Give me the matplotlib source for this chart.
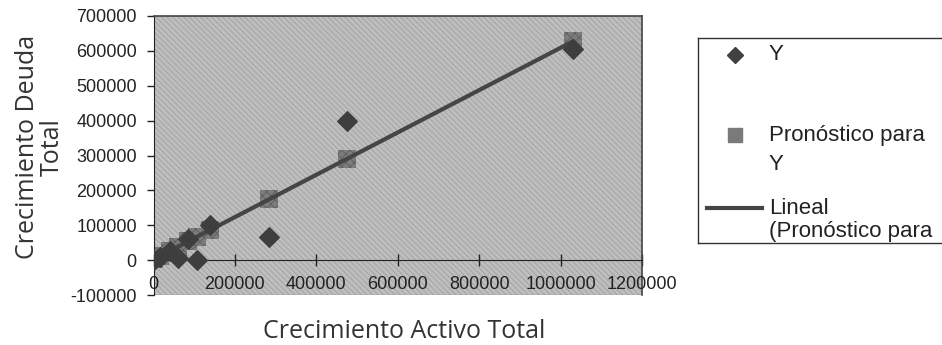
import numpy as np
import matplotlib.pyplot as plt
from matplotlib.patches import Rectangle
from matplotlib.lines import Line2D
import matplotlib.transforms as mtransforms

# Datos: crecimiento del activo total vs. crecimiento de la deuda total
activo = [0, 15000, 40000, 60000, 85000, 107000, 138000, 283000, 475000, 1030000]
deuda = [0, 10000, 25000, 5000, 60000, 0, 100000, 65000, 400000, 605000]
pronostico = [2000, 11000, 26000, 38000, 54000, 67000, 86000, 174000, 290000, 627000]

x_ticks = [0, 200000, 400000, 600000, 800000, 1000000, 1200000]
y_ticks = [-100000, 0, 100000, 200000, 300000, 400000, 500000, 600000, 700000]

num_font = 'Liberation Sans'
label_font = 'Open Sans'

plt.rcParams['hatch.linewidth'] = 0.5

fig = plt.figure(figsize=(9.42, 3.45), dpi=100)
ax = fig.add_axes([153.5 / 942, 1 - 295 / 345, (642 - 153.5) / 942, 279 / 345])

ax.set_xlim(0, 1200000)
ax.set_ylim(-100000, 700000)

# fondo gris tramado del area de trazado
ax.patch.set_facecolor('#bebebe')
ax.add_patch(Rectangle((0, 0), 1, 1, transform=ax.transAxes, fill=False,
                       hatch='\\\\\\\\\\\\', edgecolor='#9a9a9a', lw=0, zorder=0))

# linea de tendencia sobre el pronostico
coef = np.polyfit(activo, pronostico, 1)
xs = np.array([min(activo), max(activo)])
ax.plot(xs, np.polyval(coef, xs), color='#454545', lw=3, zorder=3)

ax.scatter(activo, pronostico, marker='s', s=170, color='#7c7c7c',
           hatch='xxxx', edgecolor='#5a5a5a', linewidth=0, zorder=2)
ax.scatter(activo, deuda, marker='D', s=100, color='#3e3e3e', zorder=4)

# ejes: y en el borde izquierdo, x cruzando en cero
for side in ['top', 'right']:
    ax.spines[side].set_color('#444444')
    ax.spines[side].set_linewidth(1.2)
ax.spines['left'].set_color('#222222')
ax.spines['bottom'].set_position(('data', 0))
ax.spines['bottom'].set_color('#222222')
ax.axhline(-100000, color='#8a8a8a', lw=1)

ax.set_yticks(y_ticks)
ax.set_yticklabels([str(v) if v >= 0 else '-' + str(-v) for v in y_ticks],
                   fontfamily=num_font, fontsize=13, color='#222222')
ax.tick_params(axis='y', direction='out', length=5, width=1, pad=7, color='#222222')

ax.set_xticks(x_ticks)
ax.set_xticklabels([])
ax.tick_params(axis='x', direction='inout', length=8, width=1, color='#222222')
trans = mtransforms.blended_transform_factory(ax.transData, ax.transAxes)
for v in x_ticks:
    ax.text(v, 0.036, str(v), transform=trans, ha='center', va='center',
            fontfamily=num_font, fontsize=13, color='#222222', clip_on=False)

fig.text(40 / 942, 1 - 147 / 345, 'Crecimiento Deuda\nTotal', rotation=90,
         ha='center', va='center', fontfamily=label_font, fontsize=18,
         color='#333333', linespacing=1.0)
fig.text(404 / 942, 1 - 331 / 345, 'Crecimiento Activo Total', ha='center',
         va='center', fontfamily=label_font, fontsize=18, color='#333333')

# leyenda dibujada a mano dentro de su marco
lax = fig.add_axes([698 / 942, 1 - 243 / 345, 260 / 942, 205 / 345])
lax.set_xlim(0, 260)
lax.set_ylim(205, 0)
lax.set_xticks([])
lax.set_yticks([])
for s in lax.spines.values():
    s.set_color('#333333')
    s.set_linewidth(1)

lax.plot([37], [17], marker='D', ms=8, color='#404040', clip_on=True)
lax.plot([37], [97], marker='s', ms=10, color='#7a7a7a', clip_on=True)
lax.add_line(Line2D([9, 64], [170, 170], color='#454545', lw=3))

legend_kw = dict(fontfamily=num_font, fontsize=16, color='#222222',
                 ha='left', clip_on=True)
lax.text(71, 17, 'Y', va='center', **legend_kw)
lax.text(71, 97, 'Pronóstico para', va='center', **legend_kw)
lax.text(71, 126, 'Y', va='center', **legend_kw)
lax.text(71, 160, 'Lineal', va='top', **legend_kw)
lax.text(71, 204, '(Pronóstico para', va='bottom', **legend_kw)

fig.savefig('out.png', dpi=100)
